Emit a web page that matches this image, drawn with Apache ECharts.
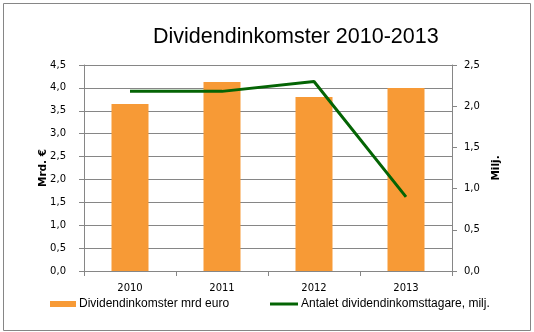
<!DOCTYPE html>
<html><head><meta charset="utf-8">
<script src="https://cdn.jsdelivr.net/npm/echarts@6/dist/echarts.min.js"></script>
<style>html,body{margin:0;padding:0;background:#fff}#c{width:534px;height:332px}</style>
</head><body><div id="c"></div>
<script>
const categories = ['2010', '2011', '2012', '2013'];
const dividendIncome = [3.65, 4.13, 3.80, 4.00];
const recipients = [2.18, 2.18, 2.30, 0.90];
const titleText = 'Dividendinkomster 2010-2013';
const barName = 'Dividendinkomster mrd euro';
const lineName = 'Antalet dividendinkomsttagare, milj.';
const leftAxisName = 'Mrd. €';
const rightAxisName = 'Milj.';

const gray = '#868686';
const fmt = v => v.toFixed(1).replace('.', ',');
const chart = echarts.init(document.getElementById('c'), null, {renderer: 'canvas'});
chart.setOption({
  animation: false,
  graphic: [{type: 'rect', shape: {x: 3.5, y: 3.5, width: 527, height: 327}, style: {fill: 'none', stroke: gray, lineWidth: 1}, silent: true}],
  title: {text: titleText, left: 148, top: 21, textStyle: {fontFamily: 'Liberation Sans', fontSize: 21.5, fontWeight: 'normal', color: '#000'}},
  grid: {left: 84, right: 82, top: 65, bottom: 61},
  legend: [
    {data: [barName], left: 50, top: 298, padding: 0, icon: 'rect', itemWidth: 26, itemHeight: 6, itemGap: 0,
     textStyle: {fontFamily: 'Liberation Sans', fontSize: 12, color: '#000', padding: [0,0,0,-2]}},
    {data: [lineName], left: 270, top: 298, padding: 0, icon: 'rect', itemWidth: 28, itemHeight: 3, itemGap: 0,
     textStyle: {fontFamily: 'Liberation Sans', fontSize: 12, color: '#000', padding: [0,0,0,-2]}}
  ],
  xAxis: {type: 'category', data: categories,
    axisLine: {lineStyle: {color: gray}},
    axisTick: {show: true, length: 5, lineStyle: {color: gray}, alignWithLabel: false},
    axisLabel: {margin: 12, fontFamily: 'DejaVu Sans', fontSize: 10, color: '#000'}},
  yAxis: [
    {type: 'value', min: 0, max: 4.5, interval: 0.5, name: leftAxisName, nameLocation: 'middle', nameGap: 35, nameRotate: 90, nameMoveOverlap: false,
     nameTextStyle: {fontFamily: 'DejaVu Sans', fontSize: 10.5, fontWeight: 'bold', color: '#000'},
     axisLine: {show: true, lineStyle: {color: gray}},
     axisTick: {show: true, length: 5, lineStyle: {color: gray}},
     axisLabel: {margin: 18, formatter: fmt, fontFamily: 'DejaVu Sans', fontSize: 10, color: '#000'},
     splitLine: {show: true, lineStyle: {color: gray, width: 1}}},
    {type: 'value', min: 0, max: 2.5, interval: 0.5, position: 'right', name: rightAxisName, nameLocation: 'middle', nameGap: 38, nameRotate: 90,
     nameTextStyle: {fontFamily: 'DejaVu Sans', fontSize: 10.5, fontWeight: 'bold', color: '#000'},
     axisLine: {show: true, lineStyle: {color: gray}},
     axisTick: {show: true, length: 5, lineStyle: {color: gray}},
     axisLabel: {margin: 12, formatter: fmt, fontFamily: 'DejaVu Sans', fontSize: 10, color: '#000'},
     splitLine: {show: false}}
  ],
  series: [
    {name: barName, type: 'bar', data: dividendIncome, barWidth: 37, itemStyle: {color: '#F79A36'}},
    {name: lineName, type: 'line', yAxisIndex: 1, data: recipients, symbol: 'none', lineStyle: {color: '#046404', width: 3}, itemStyle: {color: '#046404'}}
  ]
});
</script></body></html>
